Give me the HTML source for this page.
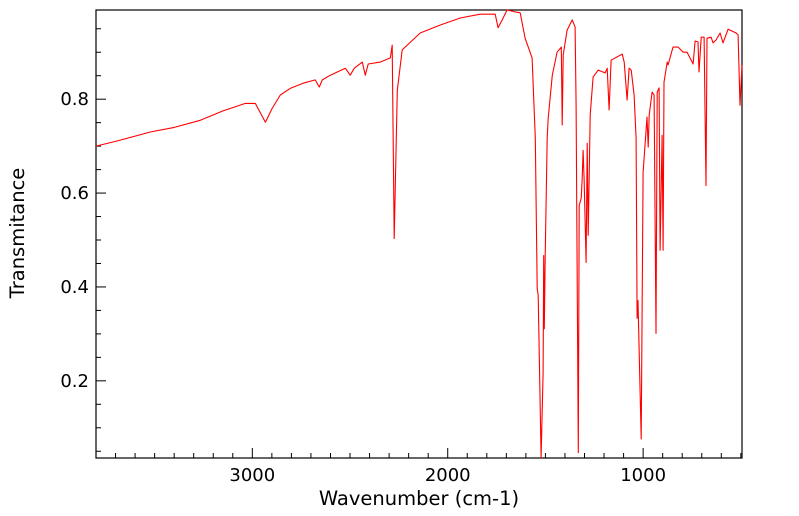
<!DOCTYPE html>
<html><head><meta charset="utf-8"><style>
html,body{margin:0;padding:0;background:#fff;}
svg{display:block;font-family:"DejaVu Sans","Liberation Sans",sans-serif;}
</style></head><body>
<svg id="chart" width="799" height="516">
  <rect x="96" y="10" width="646" height="448" fill="#fff" stroke="#000" stroke-width="1.2"/>
  <g id="ticks"></g>
  <g id="labels"></g>
  <path id="line" fill="none" stroke="#ff0000" stroke-width="1.1" stroke-linejoin="round"/>
  <text x="419" y="505" font-size="19.5" text-anchor="middle">Wavenumber (cm-1)</text>
  <text x="24" y="233" font-size="19.5" text-anchor="middle" transform="rotate(-90 24 233)">Transmitance</text>
</svg>
<script>
const wavenumbers=[3800,3700,3522,3400,3266,3150,3036,2985,2933,2898,2857,2806,2740,2678,2657,2642,2601,2524,2499,2478,2437,2422,2407,2345,2294,2284,2274,2258,2233,2141,2038,1936,1834,1757,1742,1721,1696,1655,1629,1604,1568,1552,1542,1537,1522,1512,1509,1506,1501,1491,1486,1465,1440,1419,1414,1409,1389,1363,1348,1343,1332,1327,1317,1312,1307,1302,1292,1286,1281,1271,1256,1230,1194,1184,1174,1164,1107,1097,1082,1072,1061,1046,1036,1031,1026,1010,1000,980,974,969,954,944,934,928,918,913,903,898,893,877,872,847,821,795,775,744,734,719,714,703,688,678,673,652,642,627,606,591,565,524,514,504,494];
const transmittance=[0.700,0.710,0.730,0.740,0.755,0.775,0.791,0.791,0.751,0.781,0.809,0.823,0.834,0.841,0.826,0.841,0.851,0.866,0.851,0.866,0.879,0.851,0.875,0.879,0.888,0.915,0.503,0.819,0.905,0.941,0.958,0.973,0.981,0.981,0.952,0.969,0.990,0.986,0.984,0.930,0.888,0.717,0.397,0.382,0.036,0.217,0.467,0.311,0.467,0.717,0.760,0.851,0.900,0.911,0.745,0.894,0.947,0.969,0.954,0.787,0.047,0.574,0.589,0.631,0.691,0.631,0.452,0.706,0.510,0.766,0.847,0.862,0.856,0.866,0.777,0.883,0.896,0.879,0.798,0.866,0.862,0.809,0.717,0.333,0.371,0.076,0.644,0.762,0.698,0.766,0.815,0.809,0.301,0.815,0.824,0.478,0.723,0.478,0.836,0.879,0.873,0.911,0.911,0.900,0.900,0.875,0.924,0.922,0.858,0.932,0.932,0.616,0.930,0.932,0.920,0.926,0.941,0.920,0.949,0.941,0.937,0.787,0.873];
const xTicks=[3000,2000,1000];
const yTicks=[0.2,0.4,0.6,0.8];
const xDomain=[3800,494], yDomain=[0.0356,0.99];
const X0=96,X1=742,Y0=458,Y1=10;
function sx(w){return X0+(w-xDomain[0])/(xDomain[1]-xDomain[0])*(X1-X0);}
function sy(t){return Y0-(t-yDomain[0])/(yDomain[1]-yDomain[0])*(Y0-Y1);}
const NS="http://www.w3.org/2000/svg";
let d="";
for(let i=0;i<wavenumbers.length;i++){d+=(i?"L":"M")+sx(wavenumbers[i]).toFixed(1)+","+sy(transmittance[i]).toFixed(1);}
document.getElementById("line").setAttribute("d",d);
const tg=document.getElementById("ticks"), lg=document.getElementById("labels");
function line(x1,y1,x2,y2){const l=document.createElementNS(NS,"line");l.setAttribute("x1",x1);l.setAttribute("y1",y1);l.setAttribute("x2",x2);l.setAttribute("y2",y2);l.setAttribute("stroke","#000");l.setAttribute("stroke-width","1");tg.appendChild(l);return l;}
for(let w=3700;w>=500;w-=100){const x=sx(w);const major=w%1000===0;
const t=line(x,Y0,x,Y0-(major?10:5));

}
for(let v=0.05;v<=0.99;v+=0.05){const y=sy(v);const major=Math.abs(Math.round(v*10)-v*10)<1e-6&&Math.round(v*10)%2===0;
const t=line(X0,y,X0+(major?10:5),y);

}
xTicks.forEach(w=>{const t=document.createElementNS(NS,"text");t.setAttribute("x",sx(w));t.setAttribute("y",481);t.setAttribute("font-size","18");t.setAttribute("text-anchor","middle");t.textContent=w;


lg.appendChild(t);});
yTicks.forEach(v=>{const t=document.createElementNS(NS,"text");t.setAttribute("x",89);t.setAttribute("y",sy(v)+6);t.setAttribute("font-size","18");t.setAttribute("text-anchor","end");t.textContent=v.toFixed(1);


lg.appendChild(t);});
</script>
</body></html>
